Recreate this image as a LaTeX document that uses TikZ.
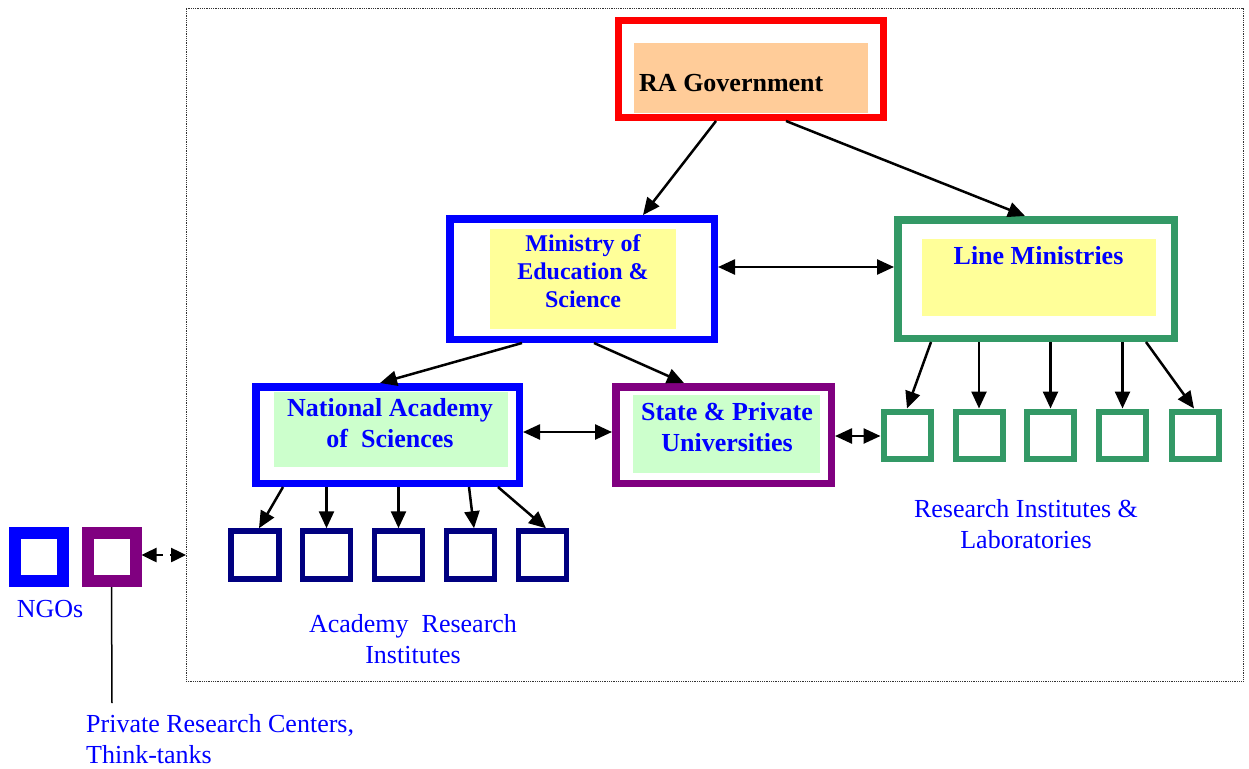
\documentclass[tikz,border=0pt]{standalone}
\usepackage{fontspec}
\setmainfont{Liberation Serif}
\usetikzlibrary{arrows.meta,calc}
\definecolor{cRed}{HTML}{FF0000}
\definecolor{cBlue}{HTML}{0000FF}
\definecolor{cGreen}{HTML}{339966}
\definecolor{cPurple}{HTML}{800080}
\definecolor{cNavy}{HTML}{000080}
\definecolor{cPeach}{HTML}{FFCC99}
\definecolor{cYellow}{HTML}{FFFF99}
\definecolor{cLGreen}{HTML}{CCFFCC}
\begin{document}
\begin{tikzpicture}[x=1pt,y=-1pt,
  bigbox/.style={draw, rectangle, inner sep=0pt},
  fillbox/.style={rectangle, inner sep=0pt, draw=none},
  smallbox/.style={draw, rectangle, inner sep=0pt, line width=6pt, minimum size=47pt},
  navybox/.style={draw=cNavy, rectangle, inner sep=0pt, line width=5.5pt, minimum size=48pt},
  ngobox/.style={draw, rectangle, inner sep=0pt, line width=12pt, minimum size=48pt},
  boldtxt/.style={inner sep=0pt, align=center, text=cBlue, font=\fontsize{26}{31}\selectfont\bfseries},
  lbltxt/.style={inner sep=0pt, text=cBlue, font=\fontsize{26}{31}\selectfont},
  arr/.style={line width=2.5pt, -{Triangle[length=17pt,width=15pt]}},
  darr/.style={line width=2.5pt, {Triangle[length=17pt,width=15pt]}-{Triangle[length=17pt,width=15pt]}},
]
\useasboundingbox (0,0) rectangle (1249,768);

% dotted frame
\node[draw=black!80, densely dotted, line width=0.8pt, rectangle, inner sep=0pt, outer sep=0pt,
  minimum width=1057pt, minimum height=673pt] (frame) at (714.5,344.5) {};

% RA Government
\node[bigbox, draw=cRed, line width=7pt, minimum width=265pt, minimum height=97pt] (gov) at (751,69) {};
\node[fillbox, fill=cPeach, minimum width=234pt, minimum height=70pt] (govfill) at (751,78) {};
\node[boldtxt, text=black, anchor=west] (govtxt) at (639,83) {RA Government};

% Ministry of Education & Science
\node[bigbox, draw=cBlue, line width=7.5pt, minimum width=264.5pt, minimum height=120.5pt] (ministry) at (582,279) {};
\node[fillbox, fill=cYellow, minimum width=186pt, minimum height=100pt] (minfill) at (583,279) {};
\node[boldtxt, font=\fontsize{24}{28}\selectfont\bfseries] (mintxt) at (583,271) {Ministry of\\Education \&\\Science};

% Line Ministries
\node[bigbox, draw=cGreen, line width=7.5pt, minimum width=276.5pt, minimum height=118.5pt] (line) at (1036,279) {};
\node[fillbox, fill=cYellow, minimum width=234pt, minimum height=77pt] (linefill) at (1039,277.5) {};
\node[boldtxt] (linetxt) at (1038.5,256) {Line Ministries};

% National Academy of Sciences
\node[bigbox, draw=cBlue, line width=7.5pt, minimum width=263.5pt, minimum height=96.5pt] (academy) at (387.5,435) {};
\node[fillbox, fill=cLGreen, minimum width=234pt, minimum height=75pt] (acadfill) at (391,429.5) {};
\node[boldtxt] (acadtxt) at (390,423) {National Academy\\of\ \ Sciences};

% State & Private Universities
\node[bigbox, draw=cPurple, line width=7.5pt, minimum width=215.5pt, minimum height=96.5pt] (univ) at (723.5,435) {};
\node[fillbox, fill=cLGreen, minimum width=187pt, minimum height=78pt] (univfill) at (726.5,434) {};
\node[boldtxt] (univtxt) at (727,427) {State \& Private\\Universities};

% research institutes (green)
\node[smallbox, draw=cGreen] (g1) at (907,435) {};
\node[smallbox, draw=cGreen] (g2) at (979,435) {};
\node[smallbox, draw=cGreen] (g3) at (1050.5,435) {};
\node[smallbox, draw=cGreen] (g4) at (1122.5,435) {};
\node[smallbox, draw=cGreen] (g5) at (1195,435) {};

% academy institutes (navy)
\node[navybox] (n1) at (255,555) {};
\node[navybox] (n2) at (326.5,555) {};
\node[navybox] (n3) at (398.5,555) {};
\node[navybox] (n4) at (470.5,555) {};
\node[navybox] (n5) at (542.5,555) {};

% NGOs
\node[ngobox, draw=cBlue] (ngo1) at (39,557) {};
\node[ngobox, draw=cPurple] (ngo2) at (111.5,557) {};

% labels
\node[lbltxt] (ngolbl) at (50,609) {NGOs};
\node[lbltxt, align=center] (acadlbl) at (413,639.5) {Academy\ \ Research\\Institutes};
\node[lbltxt, align=center] (reslbl) at (1026,524) {Research Institutes \&\\Laboratories};
\node[lbltxt, align=left, anchor=west] (privlbl) at (86,739.5) {Private Research Centers,\\Think-tanks};

% connectors
\draw[arr] (716,0 |- gov.south) -- (643,0 |- ministry.north);
\draw[arr] (786,0 |- gov.south) -- (1025,0 |- line.north);
\draw[darr] (ministry.east |- 0,267) -- (line.west |- 0,267);
\draw[arr] (522,0 |- ministry.south) -- (380,0 |- academy.north);
\draw[arr] (594,0 |- ministry.south) -- (684,0 |- univ.north);
\draw[darr] (academy.east |- 0,432) -- (univ.west |- 0,432);
\draw[darr] (univ.east |- 0,436) -- (g1.west |- 0,436);

\draw[arr] (931,0 |- line.south) -- (g1.north);
\draw[arr] (g2.north |- line.south) -- (g2.north);
\draw[arr] (g3.north |- line.south) -- (g3.north);
\draw[arr] (g4.north |- line.south) -- (g4.north);
\draw[arr] (1146,0 |- line.south) -- (1194,0 |- g5.north);

\draw[arr] (283,0 |- academy.south) -- (259,0 |- n1.north);
\draw[arr] (n2.north |- academy.south) -- (n2.north);
\draw[arr] (n3.north |- academy.south) -- (n3.north);
\draw[arr] (469,0 |- academy.south) -- (474,0 |- n4.north);
\draw[arr] (498,0 |- academy.south) -- (546,0 |- n5.north);

\draw[line width=2.5pt, dash pattern=on 7pt off 7pt, {Triangle[length=15pt,width=14pt]}-{Triangle[length=15pt,width=14pt]}] (ngo2.east |- 0,555) -- (frame.west |- 0,555);
\coordinate (privend) at (112,703);
\draw[line width=1.5pt] (ngo2.south) -- (privend);
\end{tikzpicture}
\end{document}
